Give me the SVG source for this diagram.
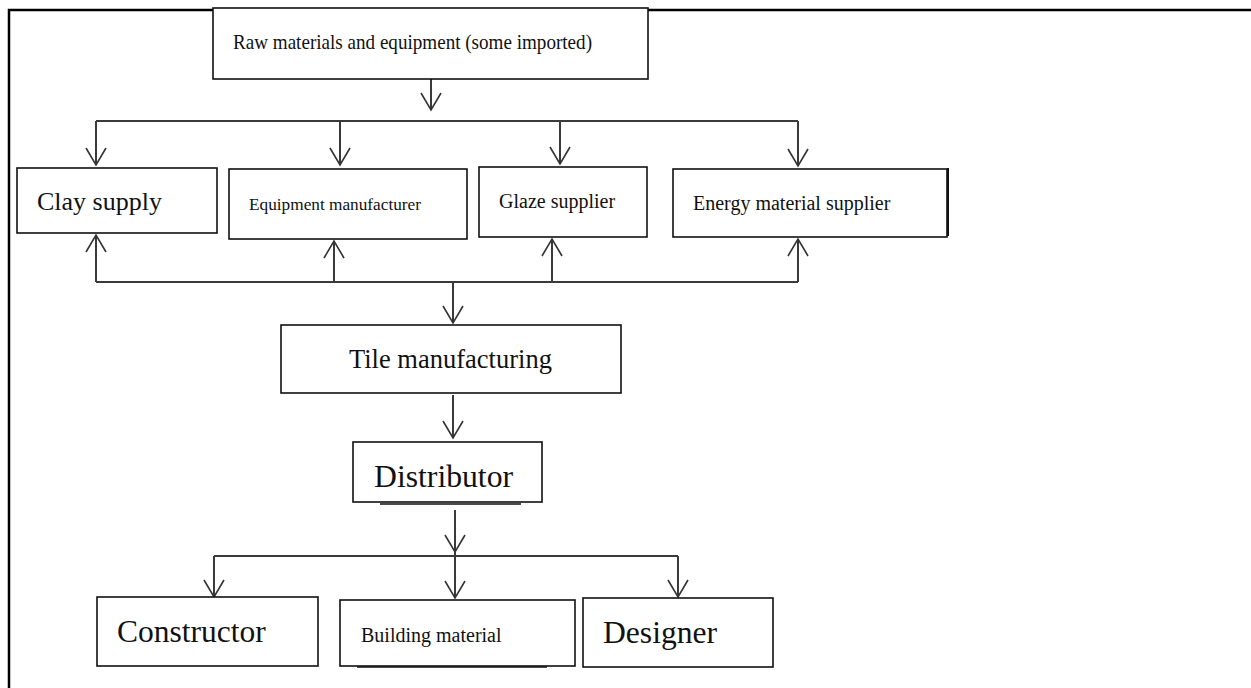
<svg xmlns="http://www.w3.org/2000/svg" width="1251" height="688" viewBox="0 0 1251 688">
<style>
.box{fill:#fff;stroke:#111;stroke-width:1.6}
.t{font-family:"Liberation Serif","Times New Roman",serif;fill:#111}
.c{fill:none;stroke:#3a3a3a;stroke-width:2}
.frame{fill:none;stroke:#000;stroke-width:2.5}
</style>
<defs>
<marker id="ah" viewBox="-19 -12 21 24" refX="0" refY="0" markerWidth="21" markerHeight="24" markerUnits="userSpaceOnUse" orient="auto">
<path d="M-17,-10 L0,0 L-17,10" fill="none" stroke="#333" stroke-width="1.6"/>
</marker>
</defs>
<rect width="1251" height="688" fill="#fff"/>
<path class="frame" d="M9,700 L9,10 L1260,10"/>
<g id="connectors">
<path class="c" d="M431,79 L431,110" marker-end="url(#ah)"/>
<path class="c" d="M96,121 L798,121"/>
<path class="c" d="M96,121 L96,165" marker-end="url(#ah)"/>
<path class="c" d="M340,121 L340,165" marker-end="url(#ah)"/>
<path class="c" d="M560,121 L560,164" marker-end="url(#ah)"/>
<path class="c" d="M798,121 L798,166" marker-end="url(#ah)"/>
<path class="c" d="M96,282 L798,282"/>
<path class="c" d="M96,282 L96,235" marker-end="url(#ah)"/>
<path class="c" d="M334,282 L334,241" marker-end="url(#ah)"/>
<path class="c" d="M552,282 L552,239" marker-end="url(#ah)"/>
<path class="c" d="M798,282 L798,239" marker-end="url(#ah)"/>
<path class="c" d="M453,282 L453,323" marker-end="url(#ah)"/>
<path class="c" d="M453,395 L453,438" marker-end="url(#ah)"/>
<path class="c" d="M455,510 L455,552" marker-end="url(#ah)"/>
<path class="c" d="M214,556 L678,556"/>
<path class="c" d="M455,552 L455,598" marker-end="url(#ah)"/>
<path class="c" d="M214,556 L214,597" marker-end="url(#ah)"/>
<path class="c" d="M678,556 L678,597" marker-end="url(#ah)"/>
</g>
<g id="raw">
<rect class="box" x="213" y="8" width="435" height="71"/>
<text class="t" x="233" y="49" font-size="21" textLength="359" lengthAdjust="spacingAndGlyphs">Raw materials and equipment (some imported)</text>
</g>
<g id="clay">
<rect class="box" x="17" y="168" width="200" height="65"/>
<text class="t" x="37" y="210" font-size="26">Clay supply</text>
</g>
<g id="equipment">
<rect class="box" x="229" y="169" width="238" height="70"/>
<text class="t" x="249" y="210" font-size="17.3" textLength="172" lengthAdjust="spacingAndGlyphs">Equipment manufacturer</text>
</g>
<g id="glaze">
<rect class="box" x="479" y="167" width="168" height="70"/>
<text class="t" x="499" y="208" font-size="20">Glaze supplier</text>
</g>
<g id="energy">
<rect class="box" x="673" y="169" width="274" height="68"/>
<line x1="948" y1="168" x2="948" y2="236" stroke="#111" stroke-width="2"/>
<text class="t" x="693" y="210" font-size="20">Energy material supplier</text>
</g>
<g id="tile">
<rect class="box" x="281" y="325" width="340" height="68"/>
<text class="t" x="349" y="368" font-size="26.5">Tile manufacturing</text>
</g>
<g id="distributor">
<line x1="380" y1="504" x2="521" y2="504" stroke="#111" stroke-width="1.6"/>
<rect class="box" x="353" y="442" width="189" height="60"/>
<text class="t" x="374" y="487" font-size="31.7">Distributor</text>
</g>
<g id="constructor">
<rect class="box" x="97" y="597" width="221" height="69"/>
<text class="t" x="117" y="642" font-size="31.5">Constructor</text>
</g>
<g id="building">
<rect class="box" x="340" y="600" width="235" height="66"/>
<line x1="357" y1="667" x2="547" y2="667" stroke="#111" stroke-width="1.6"/>
<text class="t" x="361" y="642" font-size="20">Building material</text>
</g>
<g id="designer">
<rect class="box" x="583" y="598" width="190" height="69"/>
<text class="t" x="603" y="643" font-size="31.6">Designer</text>
</g>
</svg>
